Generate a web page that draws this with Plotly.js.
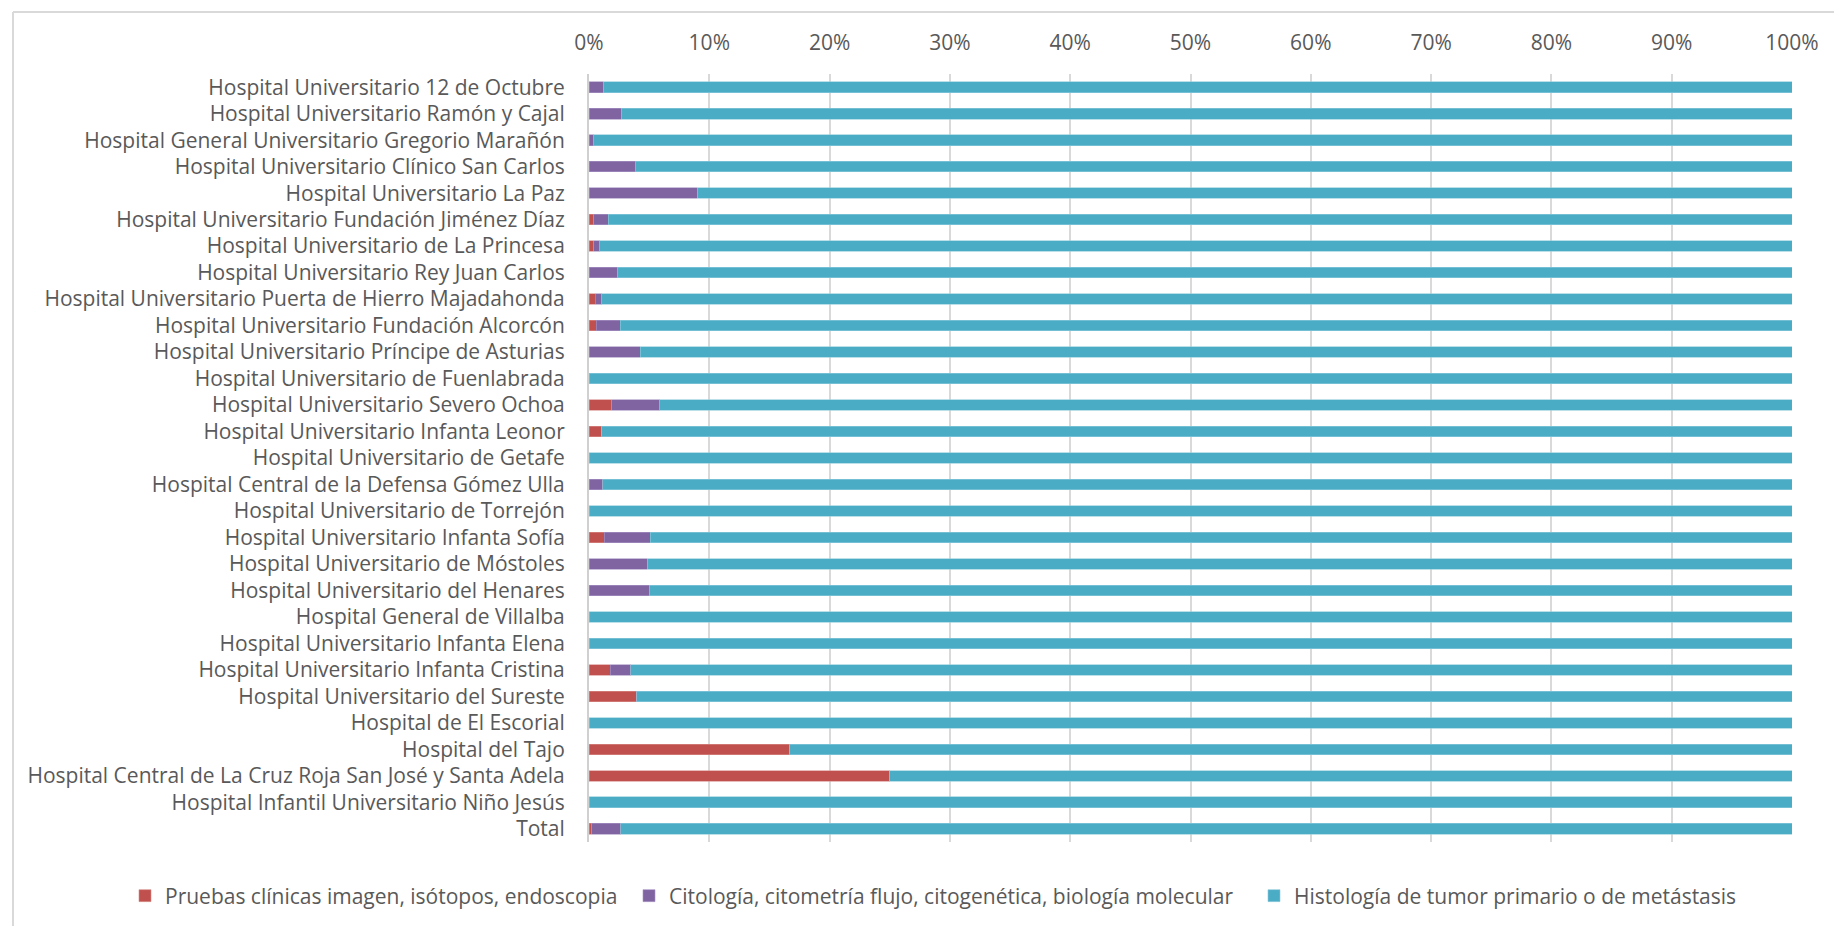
<!DOCTYPE html>
<html>
<head>
<meta charset="utf-8">
<script src="https://cdn.plot.ly/plotly-3.0.1.min.js"></script>
<style>
html,body{margin:0;padding:0;background:#fff;}
#chart{width:1834px;height:927px;}
</style>
</head>
<body>
<div id="chart"></div>
<script>
const categories = [
  "Hospital Universitario 12 de Octubre",
  "Hospital Universitario Ramón y Cajal",
  "Hospital General Universitario Gregorio Marañón",
  "Hospital Universitario Clínico San Carlos",
  "Hospital Universitario La Paz",
  "Hospital Universitario Fundación Jiménez Díaz",
  "Hospital Universitario de La Princesa",
  "Hospital Universitario Rey Juan Carlos",
  "Hospital Universitario Puerta de Hierro Majadahonda",
  "Hospital Universitario Fundación Alcorcón",
  "Hospital Universitario Príncipe de Asturias",
  "Hospital Universitario de Fuenlabrada",
  "Hospital Universitario Severo Ochoa",
  "Hospital Universitario Infanta Leonor",
  "Hospital Universitario de Getafe",
  "Hospital Central de la Defensa Gómez Ulla",
  "Hospital Universitario de Torrejón",
  "Hospital Universitario Infanta Sofía",
  "Hospital Universitario de Móstoles",
  "Hospital Universitario del Henares",
  "Hospital General de Villalba",
  "Hospital Universitario Infanta Elena",
  "Hospital Universitario Infanta Cristina",
  "Hospital Universitario del Sureste",
  "Hospital de El Escorial",
  "Hospital del Tajo",
  "Hospital Central de La Cruz Roja San José y Santa Adela",
  "Hospital Infantil Universitario Niño Jesús",
  "Total"
];

const seriesNames = [
  "Pruebas clínicas imagen, isótopos, endoscopia",
  "Citología, citometría flujo, citogenética, biología molecular",
  "Histología de tumor primario o de metástasis"
];

const pruebas = [0, 0, 0, 0, 0, 0.4, 0.4, 0, 0.5, 0.6, 0, 0, 1.9, 1.05, 0, 0, 0, 1.25, 0, 0, 0, 0, 1.75, 3.97, 0, 16.67, 25, 0, 0.22];
const citologia = [1.2, 2.7, 0.4, 3.9, 9.0, 1.2, 0.5, 2.4, 0.55, 2.0, 4.25, 0, 4.0, 0, 0, 1.15, 0, 3.85, 4.83, 5.0, 0, 0, 1.7, 0, 0, 0, 0, 0, 2.4];
const histologia = [98.8, 97.3, 99.6, 96.1, 91.0, 98.4, 99.1, 97.6, 98.95, 97.4, 95.75, 100, 94.1, 98.95, 100, 98.85, 100, 94.9, 95.17, 95.0, 100, 100, 96.55, 96.03, 100, 83.33, 75, 100, 97.38];

const xTickVals = [0, 10, 20, 30, 40, 50, 60, 70, 80, 90, 100];

const colors = ["#C0504D", "#8064A2", "#4BACC6"];
const lineColors = ["#d88f8c", "#a996c4", "#8fcbdc"];
const values = [pruebas, citologia, histologia];
const legendIds = ["legend", "legend2", "legend3"];

const traces = values.map((v, i) => ({
  type: "bar",
  orientation: "h",
  name: seriesNames[i],
  x: v,
  y: categories,
  legend: legendIds[i],
  marker: {color: colors[i], line: {color: lineColors[i], width: 0.6}},
  hoverinfo: "x+y+name"
}));

const L = 589, R = 1792, T = 74, B = 843, W = 1834, H = 927;
const pw = R - L, ph = B - T;
const px = v => (v - L) / pw;
const py = v => (B - v) / ph;

const legendBase = (xPix) => ({
  orientation: "h",
  x: px(xPix), xanchor: "left",
  y: py(896), yanchor: "middle",
  font: {size: 21, color: "#595959"},
  bgcolor: "rgba(0,0,0,0)"
});

const layout = {
  width: W, height: H,
  margin: {l: L, r: W - R, t: T, b: H - B, pad: 0},
  barmode: "stack",
  bargap: 0.6,
  paper_bgcolor: "#ffffff",
  plot_bgcolor: "#ffffff",
  font: {family: "Open Sans, sans-serif", size: 21, color: "#595959"},
  showlegend: true,
  legend: legendBase(125),
  legend2: legendBase(629),
  legend3: legendBase(1254),
  xaxis: {
    side: "top",
    range: [0, 100],
    tickvals: xTickVals,
    ticktext: xTickVals.map(v => v + "%"),
    showgrid: true,
    gridcolor: "#d9d9d9",
    gridwidth: 2,
    zeroline: false,
    showline: false,
    ticks: "",
    ticklabelstandoff: 19,
    tickfont: {size: 21, color: "#595959"},
    fixedrange: true
  },
  yaxis: {
    autorange: "reversed",
    type: "category",
    showgrid: false,
    zeroline: false,
    showline: true,
    linecolor: "#d0d0d0",
    linewidth: 2,
    ticks: "",
    ticklabelstandoff: 18,
    tickfont: {size: 21, color: "#595959"},
    fixedrange: true
  },
  shapes: [
    {type: "line", xref: "paper", yref: "paper", x0: px(13), x1: px(W), y0: py(12), y1: py(12), line: {color: "#d9d9d9", width: 2}},
    {type: "line", xref: "paper", yref: "paper", x0: px(13), x1: px(13), y0: py(12), y1: py(H), line: {color: "#d9d9d9", width: 2}}
  ]
};

Plotly.newPlot("chart", traces, layout, {displayModeBar: false, responsive: false});
</script>
</body>
</html>
